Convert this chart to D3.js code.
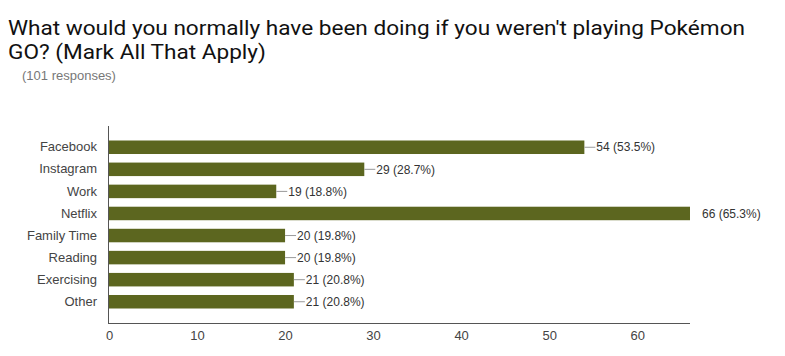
<!DOCTYPE html>
<html>
<head>
<meta charset="utf-8">
<script src="https://cdn.jsdelivr.net/npm/d3@7"></script>
<style>
  html, body { margin: 0; padding: 0; background: #fff; }
  svg { display: block; }
</style>
</head>
<body>
<div id="chart"></div>
<script>
const titleLines = ["What would you normally have been doing if you weren't playing Pokémon", "GO? (Mark All That Apply)"];
const subtitle = "(101 responses)";
const categories = ["Facebook", "Instagram", "Work", "Netflix", "Family Time", "Reading", "Exercising", "Other"];
const counts = [54, 29, 19, 66, 20, 20, 21, 21];
const percents = ["53.5%", "28.7%", "18.8%", "65.3%", "19.8%", "19.8%", "20.8%", "20.8%"];
const xTicks = [0, 10, 20, 30, 40, 50, 60];
const xMax = 66;

(function () {
const W = 785, H = 356;
const svg = d3.select("#chart").append("svg").attr("width", W).attr("height", H);

// Title
const titleFont = "Roboto, 'Liberation Sans', sans-serif";
const titleSize = 20;
const titleG = svg.append("g");
const t1 = titleG.append("text").attr("x", 8).attr("y", 35)
  .attr("font-family", titleFont).attr("font-size", titleSize)
  .attr("fill", "#111").text(titleLines[0]);
const t2 = titleG.append("text").attr("x", 8).attr("y", 59)
  .attr("font-family", titleFont).attr("font-size", titleSize)
  .attr("fill", "#111").text(titleLines[1]);
const w1 = t1.node().getComputedTextLength();
const w2 = t2.node().getComputedTextLength();
const k = 737 / w1;
t1.attr("textLength", 737).attr("lengthAdjust", "spacingAndGlyphs");
t2.attr("textLength", w2 * k).attr("lengthAdjust", "spacingAndGlyphs");

svg.append("text").attr("x", 22).attr("y", 80)
  .attr("font-family", "'Liberation Sans', Arial, sans-serif").attr("font-size", 13)
  .attr("fill", "#777").text(subtitle);

// Scales
const pLeft = 109, pRight = 690, pTop = 126, pBottom = 323;
const x = d3.scaleLinear().domain([0, xMax]).range([pLeft, pRight]);
const y = d3.scaleBand().domain(categories).range([pTop, pBottom])
  .paddingInner(0.388).paddingOuter(0.657);

const font = "'Liberation Sans', Arial, sans-serif";

svg.append("clipPath").attr("id", "plotclip").append("rect")
  .attr("x", pLeft).attr("y", pTop).attr("width", pRight - pLeft).attr("height", pBottom - pTop);

// Bars
svg.append("g").selectAll("rect").data(categories).join("rect")
  .attr("x", x(0))
  .attr("y", d => y(d))
  .attr("width", (d, i) => x(counts[i]) - x(0))
  .attr("height", y.bandwidth())
  .attr("fill", "#5c661f");

// Leader lines
svg.append("g").attr("clip-path", "url(#plotclip)").selectAll("line").data(categories).join("line")
  .attr("x1", (d, i) => x(counts[i]))
  .attr("x2", (d, i) => x(counts[i]) + 11)
  .attr("y1", d => y(d) + y.bandwidth() / 2)
  .attr("y2", d => y(d) + y.bandwidth() / 2)
  .attr("stroke", "#999").attr("stroke-width", 1);

// Value labels
svg.append("g").selectAll("text").data(categories).join("text")
  .attr("x", (d, i) => x(counts[i]) + 12)
  .attr("y", d => y(d) + y.bandwidth() / 2)
  .attr("dy", "0.35em")
  .attr("font-family", font).attr("font-size", 12).attr("fill", "#333")
  .text((d, i) => `${counts[i]} (${percents[i]})`);

// Y axis
const yAxis = d3.axisLeft(y).tickSize(0).tickPadding(12);
const yg = svg.append("g").attr("transform", `translate(${pLeft},0)`).call(yAxis);
yg.select(".domain").remove();
yg.selectAll("text").attr("font-family", font).attr("font-size", 13).attr("fill", "#444");
svg.append("line").attr("x1", pLeft - 0.5).attr("x2", pLeft - 0.5).attr("y1", pTop).attr("y2", pBottom)
  .attr("stroke", "#555").attr("stroke-width", 1);

// X axis
const xAxis = d3.axisBottom(x).tickValues(xTicks).tickSize(0).tickPadding(8);
const xg = svg.append("g").attr("transform", `translate(0,${pBottom})`).call(xAxis);
xg.select(".domain").remove();
xg.selectAll("text").attr("font-family", font).attr("font-size", 13).attr("fill", "#444");
svg.append("line").attr("x1", pLeft - 1).attr("x2", pRight).attr("y1", pBottom + 0.5).attr("y2", pBottom + 0.5)
  .attr("stroke", "#555").attr("stroke-width", 1);
})();
</script>
</body>
</html>
